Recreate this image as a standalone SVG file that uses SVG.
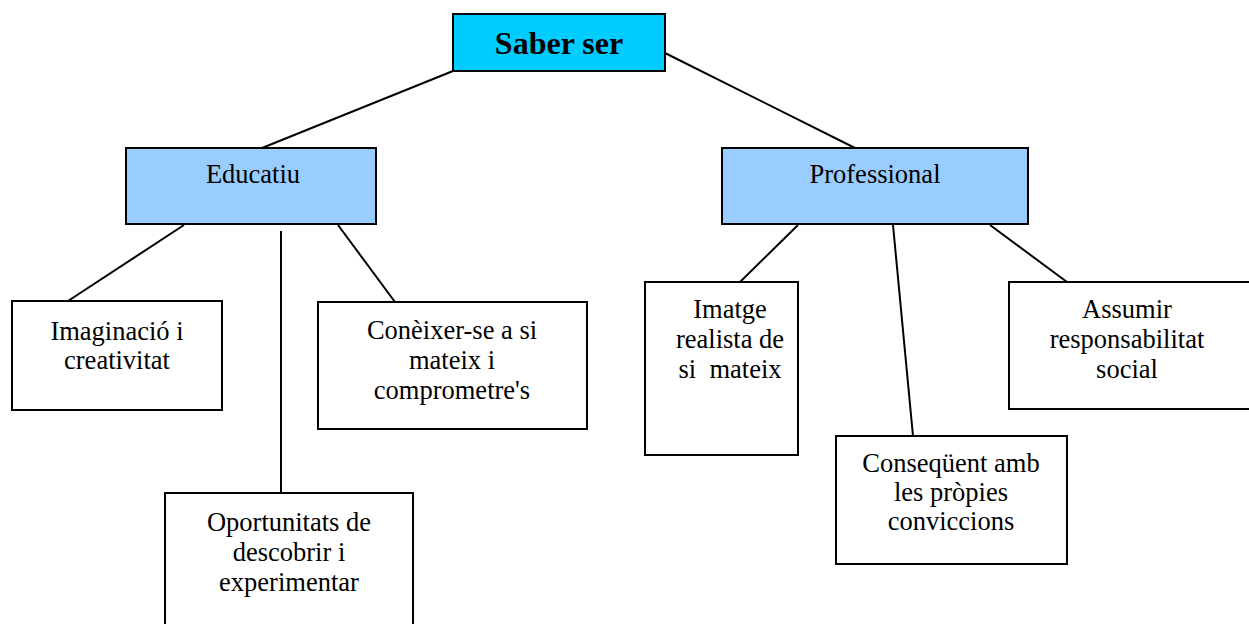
<svg xmlns="http://www.w3.org/2000/svg" width="1249" height="624" viewBox="0 0 1249 624">
<style>
rect{stroke:#000;stroke-width:2}
.w{fill:#fff}
.c{fill:#99ccff}
text{font-family:"Liberation Serif","Times New Roman",serif;font-size:26.5px;text-anchor:middle;fill:#000}
.t{font-size:32px;font-weight:bold}
#connectors line{stroke:#000;stroke-width:2}
</style>
<rect x="0" y="0" width="1249" height="624" fill="#fff" style="stroke:none"/>
<g id="connectors">
<line x1="453" y1="71" x2="262" y2="148"/>
<line x1="665" y1="53" x2="855" y2="148"/>
<line x1="184" y1="225" x2="68" y2="301"/>
<line x1="281" y1="231" x2="281" y2="493"/>
<line x1="338" y1="225" x2="395" y2="302"/>
<line x1="798" y1="225" x2="740" y2="282"/>
<line x1="893" y1="225" x2="913" y2="436"/>
<line x1="990" y1="225" x2="1067" y2="282"/>
</g>
<g id="saber-ser"><rect x="453" y="14" width="212" height="57" fill="#00ccff"/><text class="t" x="559" y="54">Saber ser</text></g>
<g id="educatiu"><rect class="c" x="126" y="148" width="250" height="76"/><text x="253" y="183">Educatiu</text></g>
<g id="professional"><rect class="c" x="722" y="148" width="306" height="76"/><text x="875" y="183">Professional</text></g>
<g id="imaginacio"><rect class="w" x="12" y="301" width="210" height="109"/><text x="117" y="340">Imaginació i</text><text x="117" y="369">creativitat</text></g>
<g id="oportunitats"><rect class="w" x="165" y="493" width="248" height="140"/><text x="289" y="531">Oportunitats de</text><text x="289" y="561">descobrir i</text><text x="289" y="591">experimentar</text></g>
<g id="coneixer"><rect class="w" x="318" y="302" width="269" height="127"/><text x="452" y="339">Conèixer-se a si</text><text x="452" y="369">mateix i</text><text x="452" y="399">comprometre's</text></g>
<g id="imatge"><rect class="w" x="645" y="282" width="153" height="173"/><text x="730" y="318">Imatge</text><text x="730" y="348">realista de</text><text x="730" y="378">si&#160; mateix</text></g>
<g id="consequent"><rect class="w" x="836" y="436" width="231" height="128"/><text x="951" y="472">Conseqüent amb</text><text x="951" y="501">les pròpies</text><text x="951" y="530">conviccions</text></g>
<g id="assumir"><rect class="w" x="1009" y="282" width="245" height="127"/><text x="1127" y="318">Assumir</text><text x="1127" y="348">responsabilitat</text><text x="1127" y="378">social</text></g>
</svg>
